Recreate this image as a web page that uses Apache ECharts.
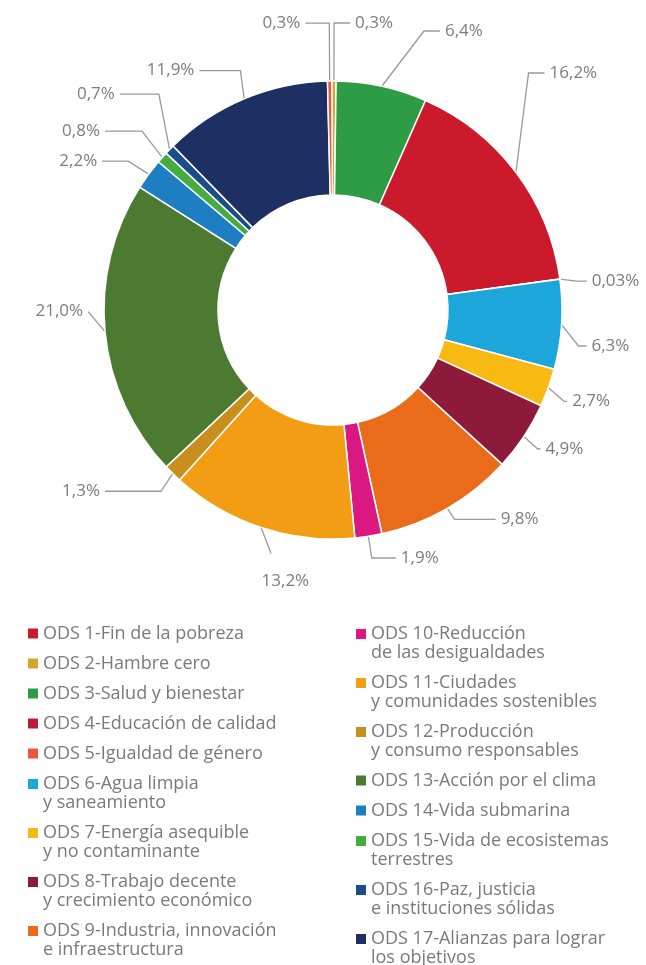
<!DOCTYPE html>
<html>
<head>
<meta charset="utf-8">
<script src="https://cdn.jsdelivr.net/npm/echarts@6/dist/echarts.min.js"></script>
<style>
  html, body { margin: 0; padding: 0; background: #fff; }
  #chart { width: 646px; height: 965px; }
</style>
</head>
<body>
<div id="chart"></div>
<script>
// Categories (ODS 1..17), legend text with line breaks
var categories = [
  'ODS 1-Fin de la pobreza',
  'ODS 2-Hambre cero',
  'ODS 3-Salud y bienestar',
  'ODS 4-Educación de calidad',
  'ODS 5-Igualdad de género',
  'ODS 6-Agua limpia\ny saneamiento',
  'ODS 7-Energía asequible\ny no contaminante',
  'ODS 8-Trabajo decente\ny crecimiento económico',
  'ODS 9-Industria, innovación\ne infraestructura',
  'ODS 10-Reducción\nde las desigualdades',
  'ODS 11-Ciudades\ny comunidades sostenibles',
  'ODS 12-Producción\ny consumo responsables',
  'ODS 13-Acción por el clima',
  'ODS 14-Vida submarina',
  'ODS 15-Vida de ecosistemas\nterrestres',
  'ODS 16-Paz, justicia\ne instituciones sólidas',
  'ODS 17-Alianzas para lograr\nlos objetivos'
];
// Share (%) for each ODS, same order as categories
var values = [16.2, 0.3, 6.4, 0.03, 0.3, 6.3, 2.7, 4.9, 9.8, 1.9, 13.2, 1.3, 21.0, 2.2, 0.8, 0.7, 11.9];
// Colours for each ODS
var colors = ['#CC1A2D', '#D6A52E', '#2E9B45', '#B81C3A', '#E8573F', '#1DA6D9', '#F7B912',
              '#8E1A3B', '#EA6B1A', '#DB1882', '#F29D14', '#C98F1E', '#4C7A30', '#1D7FC1',
              '#45AC3F', '#1A4D8A', '#1D2F63'];
// Order of slices clockwise from 12 o'clock (ODS numbers)
var sliceOrder = [2, 3, 1, 4, 6, 7, 8, 9, 10, 11, 12, 13, 14, 15, 16, 17, 5];
var legendLeft = [1, 2, 3, 4, 5, 6, 7, 8, 9];
var legendRight = [10, 11, 12, 13, 14, 15, 16, 17];

// Label nudges [dx, dy] in px relative to ECharts' own outside placement (layout only)
var labelNudge = {
  5: [-8, -36], 2: [0, -36], 3: [0, -47], 1: [0, -86], 4: [-6, 5], 6: [-8, 20],
  7: [-13, 6], 8: [-13, 0], 9: [25, -8], 10: [8, 0], 12: [-40, 2], 13: [16, -22],
  14: [-10, -11], 15: [-21, -22], 16: [-23, -40], 17: [-25, -8]
};
// Label drawn straight below its slice (layout only)
var labelBelow = { 11: [76, 33] };

var pieData = sliceOrder.map(function (n) {
  return { name: categories[n - 1], value: values[n - 1], ods: n, itemStyle: { color: colors[n - 1] } };
});

var squareIcon = 'path://M0,0L10,0L10,10L0,10Z';
var topSquareIcon = 'path://M0,0L10,0L10,10L0,10Z M0,28L10,28';
function legendItems(list) {
  return list.map(function (n) {
    var name = categories[n - 1];
    return { name: name, icon: name.indexOf('\n') >= 0 ? topSquareIcon : squareIcon };
  });
}
var legendText = { color: '#7a7a7a', fontSize: 18, lineHeight: 19, fontFamily: 'Open Sans' };

var chart = echarts.init(document.getElementById('chart'), null, { renderer: 'canvas' });
chart.setOption({
  animation: false,
  backgroundColor: '#ffffff',
  legend: [
    {
      orient: 'vertical', left: 28, top: 624, height: 400, width: 300, padding: 0,
      itemWidth: 10, itemHeight: 28, itemGap: 11,
      itemStyle: { borderWidth: 0 },
      selectedMode: false,
      data: legendItems(legendLeft),
      textStyle: legendText
    },
    {
      orient: 'vertical', left: 356, top: 624, height: 400, width: 290, padding: 0,
      itemWidth: 10, itemHeight: 28, itemGap: 11,
      itemStyle: { borderWidth: 0 },
      selectedMode: false,
      data: legendItems(legendRight),
      textStyle: legendText
    }
  ],
  series: [{
    type: 'pie',
    center: [333, 310],
    radius: [115, 229],
    startAngle: 90.3,
    clockwise: true,
    avoidLabelOverlap: true,
    data: pieData,
    itemStyle: { borderColor: '#ffffff', borderWidth: 1.5 },
    label: {
      show: true,
      position: 'outside',
      color: '#7d7d7d',
      fontSize: 17,
      width: 62,
      fontFamily: 'Open Sans',
      formatter: function (p) {
        var v = p.value;
        return v.toFixed(v < 0.1 ? 2 : 1).replace('.', ',') + '%';
      }
    },
    labelLine: {
      show: true,
      length: 22,
      length2: 16,
      lineStyle: { color: '#9a9a9a', width: 1.3 }
    },
    labelLayout: function (params) {
      var n = pieData[params.dataIndex].ods;
      var pts = params.labelLinePoints;
      if (!pts) { return {}; }
      var p0 = pts[0];
      if (labelBelow[n]) {
        var b = labelBelow[n];
        var q = [p0[0] + 10, p0[1] + 26];
        return { dx: b[0], dy: b[1], labelLinePoints: [[p0[0], p0[1]], q, q] };
      }
      var s = labelNudge[n];
      if (s) {
        return {
          dx: s[0],
          dy: s[1],
          labelLinePoints: [
            [p0[0], p0[1]],
            [pts[1][0], pts[1][1] + s[1]],
            [pts[2][0] + s[0], pts[2][1] + s[1]]
          ]
        };
      }
      return {};
    },
    emphasis: { disabled: true }
  }]
});
</script>
</body>
</html>
